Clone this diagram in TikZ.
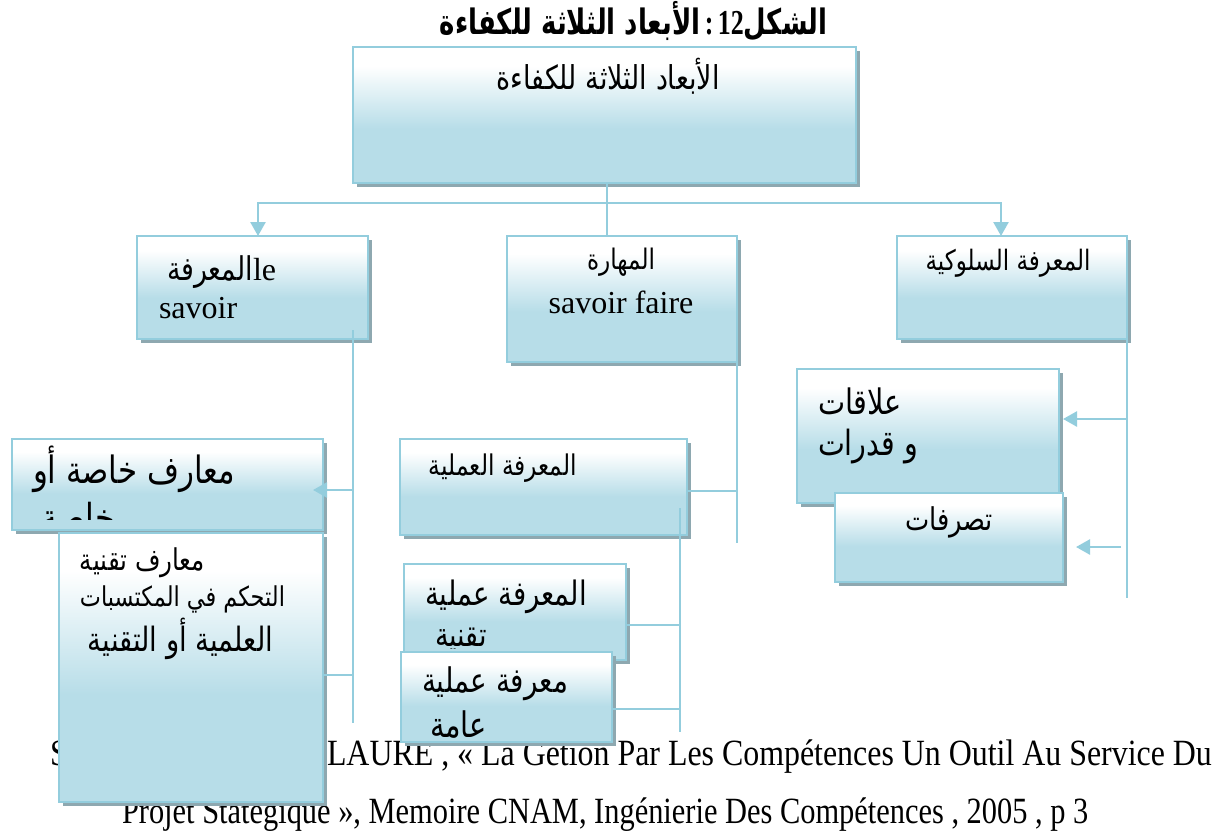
\documentclass[tikz,border=0pt]{standalone}
\usepackage{fontspec}
\usepackage{graphicx}
\setmainfont{Liberation Serif}
\newfontfamily\arb[Script=Arabic]{DejaVu Sans}
\TeXXeTstate=1
\usetikzlibrary{arrows.meta,shadows}

\definecolor{edgeblue}{HTML}{93CDDD}
\definecolor{fillblue}{HTML}{B7DDE8}
\definecolor{shadowgray}{HTML}{8EA8B0}

% white at the top, light blue over the lower part
\pgfdeclareverticalshading{panelshade}{100bp}{color(0bp)=(fillblue); color(45bp)=(fillblue); color(68bp)=(white); color(100bp)=(white)}

% Arabic text scaled to a given width, slightly taller than the font
\newcommand\ar[2]{\resizebox{#1pt}{!}{\scalebox{1}[1.22]{\arb #2}}}

\tikzset{
  panel/.style={draw=edgeblue, line width=2.3pt, shade, shading=panelshade,
    inner sep=0pt, outer sep=0pt, anchor=north west,
    drop shadow={shadow xshift=4pt, shadow yshift=-4pt, fill=shadowgray, opacity=1}},
  conn/.style={draw=edgeblue, line width=2.5pt},
  arr/.style={conn, -{Triangle[length=14pt,width=15pt]}},
  lbl/.style={inner sep=0pt, outer sep=0pt},
  latin/.style={lbl, font=\fontsize{32}{36}\selectfont}
}

\begin{document}
\begin{tikzpicture}[x=1pt,y=-1pt]
\useasboundingbox (0,0) rectangle (1215,830);
\fill[white] (0,0) rectangle (1215,830);

% title
\node[lbl] (title) at (633.5,21) {\resizebox{387pt}{!}{\scalebox{1}[1.35]{\arb\bfseries\beginR الأبعاد الثلاثة للكفاءة\endR\,\rmfamily\bfseries :\,12\arb\bfseries\beginR الشكل\endR}}};

% source reference
\node[lbl, anchor=base west] (srcS) at (50,765) {\scalebox{0.862}[1]{\fontsize{37}{40}\selectfont S}};
\node[lbl, anchor=base west] (srcA) at (327,765) {\scalebox{0.862}[1]{\fontsize{37}{40}\selectfont LAURE , « La Getion Par Les Compétences Un Outil Au Service Du}};
\node[lbl, anchor=base west] (srcB) at (122,823) {\scalebox{0.822}[1]{\fontsize{37}{40}\selectfont Projet Statégique », Memoire CNAM, Ingénierie Des Compétences , 2005 , p 3}};

% top level
\node[panel, minimum width=503pt, minimum height=136pt] (top) at (353,47) {};
\node[lbl] (topT) at (608,76) {\ar{223}{\beginR الأبعاد الثلاثة للكفاءة\endR}};

% second level
\node[panel, minimum width=231pt, minimum height=103pt] (L) at (137,236) {};
\node[lbl, anchor=base west] (LT) at (167,280) {\ar{86}{\beginR المعرفة\endR}\fontsize{32}{36}\selectfont le};
\node[latin, anchor=base west] (LS) at (159,318) {savoir};

\node[panel, minimum width=230pt, minimum height=126pt] (M) at (507,236) {};
\node[lbl] (MT) at (621,262) {\ar{68}{\beginR المهارة\endR}};
\node[latin, anchor=base] (MS) at (621,313) {savoir faire};

\node[panel, minimum width=230pt, minimum height=103pt] (R) at (897,236) {};
\node[lbl] (RT) at (1008,263) {\ar{165}{\beginR المعرفة السلوكية\endR}};

% left column
\node[panel, minimum width=311pt, minimum height=91pt] (A) at (12,439) {};
\begin{scope}
  \clip (14,441) rectangle (321,519);
  \node[lbl] (A1) at (134,469) {\ar{202}{\beginR معارف خاصة أو\endR}};
  \node[lbl] (A2) at (78.5,517) {\ar{73}{\beginR خاصة\endR}};
\end{scope}
\node[panel, minimum width=264pt, minimum height=269pt] (B) at (59,533) {};
\node[lbl] (B1) at (142.5,563) {\ar{125}{\beginR معارف تقنية\endR}};
\node[lbl] (B2) at (182.5,599) {\ar{205}{\beginR التحكم في المكتسبات\endR}};
\node[lbl] (B3) at (180.5,639) {\ar{185}{\beginR العلمية أو  التقنية\endR}};

% middle column
\node[panel, minimum width=287pt, minimum height=96pt] (MA) at (400,439) {};
\node[lbl] (MA1) at (503,468) {\ar{148}{\beginR المعرفة العملية\endR}};
\node[panel, minimum width=222pt, minimum height=96pt] (MTk) at (404,564) {};
\begin{scope}
  \clip (406,566) rectangle (624,648);
  \node[lbl] (MT1) at (506,597) {\ar{162}{\beginR المعرفة عملية\endR}};
  \node[lbl] (MT2) at (461,640) {\ar{52}{\beginR تقنية\endR}};
\end{scope}
\node[panel, minimum width=211pt, minimum height=90pt] (MG) at (401,652) {};
\begin{scope}
  \clip (403,654) rectangle (610,738);
  \node[lbl] (MG1) at (495,684) {\ar{146}{\beginR معرفة عملية\endR}};
  \node[lbl] (MG2) at (458.5,725) {\ar{57}{\beginR عامة\endR}};
\end{scope}

% right column
\node[panel, minimum width=262pt, minimum height=134pt] (RA) at (797,369) {};
\node[lbl] (RA1) at (860,401) {\ar{84}{\beginR علاقات\endR}};
\node[lbl] (RA2) at (868,447) {\ar{100}{\beginR و قدرات\endR}};
\node[panel, minimum width=228pt, minimum height=89pt] (RB) at (835,493) {};
\node[lbl] (RB1) at (949,522) {\ar{88}{\beginR تصرفات\endR}};

% connectors from the top box
\coordinate (hM) at (607,203);
\coordinate (hL) at (258,203);
\coordinate (hR) at (1001,203);
\draw[conn] (hM |- top.south) -- (hM |- M.north);
\draw[arr] (hM) -- (hL) -- (hL |- L.north);
\draw[arr] (hM) -- (hR) -- (hR |- R.north);

% left branch
\coordinate (vL) at (353,330);
\coordinate (vLb) at (353,723);
\coordinate (jA) at (353,490);
\coordinate (jB) at (353,675);
\draw[conn] (vL) -- (vLb);
\draw[arr] (jA) -- ([xshift=-10pt]jA -| A.east);
\draw[conn] (jB) -- (jB -| B.east);

% middle branch
\coordinate (vM) at (737,333);
\coordinate (vMb) at (737,543);
\coordinate (jMA) at (737,491);
\draw[conn] (vM) -- (vMb);
\draw[conn] (jMA) -- (jMA -| MA.east);
\coordinate (vW) at (680,508);
\coordinate (vWb) at (680,732);
\coordinate (jMT) at (680,625);
\coordinate (jMG) at (680,709);
\draw[conn] (vW) -- (vWb);
\draw[conn] (jMT) -- (jMT -| MTk.east);
\draw[conn] (jMG) -- (jMG -| MG.east);

% right branch
\coordinate (vRb) at (1127,598);
\coordinate (jRA) at (1127,419);
\coordinate (jRB) at (1121,547);
\draw[conn] (R.south east) -- (vRb);
\draw[arr] (jRA) -- ([xshift=4pt]jRA -| RA.east);
\draw[arr] (jRB) -- ([xshift=13pt]jRB -| RB.east);
\end{tikzpicture}
\end{document}
